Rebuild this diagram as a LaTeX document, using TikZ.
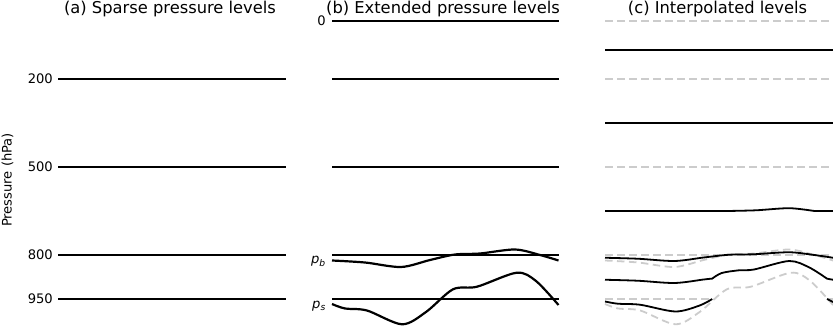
\documentclass[tikz,border=0pt]{standalone}
\usepackage{fontspec}
\setmainfont{DejaVu Sans}
\usepackage{tikz}
\usetikzlibrary{positioning}

\begin{document}
\begin{tikzpicture}[
		x=1pt, y=-1pt,                      % 1 Einheit = 1 Pixel, y nach unten
		every node/.style={font=\fontsize{13.1}{15}\selectfont, inner sep=0pt},
		titel/.style={font=\fontsize{16.3}{19}\selectfont, anchor=base},
		achse/.style={anchor=east},
		niveau/.style={line width=2.2pt},
		kurve/.style={line width=2.2pt, line join=round},
		interp/.style={line width=1.8pt, line join=round},
		alt/.style={line width=1.8pt, black!20, dash pattern=on 7.5pt off 4.5pt}
		]
		
		\useasboundingbox (0,0) rectangle (833,326);
		
		% 0. Titel und Achsenbeschriftung
		\node[titel] (ta) at (170,13.3) {(a) Sparse pressure levels};
		\node[titel] (tb) at (443,13.3) {(b) Extended pressure levels};
		\node[titel] (tc) at (717.5,13.3) {(c) Interpolated levels};
		\node[rotate=90] (ylab) at (7.5,180) {Pressure (hPa)};
		
		% 1. Panel (a): wenige Druckniveaus
		\coordinate (a200) at (58,79);
		\coordinate (a500) at (58,167);
		\coordinate (a800) at (58,255);
		\coordinate (a950) at (58,299);
		\draw[niveau] (a200) -- ++(228,0);
		\draw[niveau] (a500) -- ++(228,0);
		\draw[niveau] (a800) -- ++(228,0);
		\draw[niveau] (a950) -- ++(228,0);
		\node[achse, left=5pt of a200] (l200) {200};
		\node[achse, left=5pt of a500] (l500) {500};
		\node[achse, left=5pt of a800] (l800) {800};
		\node[achse, left=5pt of a950] (l950) {950};
		
		% 2. Panel (b): erweiterte Niveaus mit p_b und p_s
		\coordinate (b0) at (332,21);
		\draw[niveau, line width=2.8pt] (b0) -- ++(226.5,0);
		\draw[niveau] (332,79) -- ++(226.5,0);
		\draw[niveau] (332,167) -- ++(226.5,0);
		\draw[niveau] (332,255) -- ++(226.5,0);
		\draw[niveau] (332,299) -- ++(226.5,0);
		\node[achse, left=6pt of b0] (l0) {0};
		\node[anchor=base east] (lpb) at (326,263.6) {\textit{p}\textsubscript{\textit{b}}};
		\node[anchor=base east] (lps) at (326,308.8) {\textit{p}\textsubscript{\textit{s}}};
		
		\begin{scope}[shift={(332,0)}]
			% Grenzschicht p_b
			\draw[kurve] plot[smooth] coordinates {(0,260.5) (33,262.5) (69,267) (98,260) (123,254.5) (148,253.5) (183,249.5) (208,255) (226.5,260.5)};
			% Bodendruck p_s
			\draw[kurve] plot[smooth] coordinates {(0,304) (13,308.5) (35,310.5) (70,324.3) (94,312) (121,289.3) (145,286.7) (184.7,272.7) (204,281) (226.5,305)};
		\end{scope}
		
		% 3. Panel (c): interpolierte Niveaus
		\begin{scope}[shift={(605,0)}, xscale=1.0066]
			% alte Niveaus (grau gestrichelt)
			\draw[alt] (0,21) -- (226.5,21);
			\draw[alt] (0,79) -- (226.5,79);
			\draw[alt] (0,167) -- (226.5,167);
			\draw[alt] (0,255) -- (226.5,255);
			\draw[alt] (0,299) -- (106.5,299);
			\draw[alt] (220.6,299) -- (226.5,299);
			\draw[alt] plot[smooth] coordinates {(0,260.5) (33,262.5) (69,267) (98,260) (123,254.5) (148,253.5) (183,249.5) (208,255) (226.5,260.5)};
			\draw[alt] plot[smooth] coordinates {(0,304) (13,308.5) (35,310.5) (70,324.3) (94,312) (121,289.3) (145,286.7) (184.7,272.7) (204,281) (226.5,305)};
			
			% neue Niveaus (schwarz)
			\draw[niveau, line width=2pt] (0,50) -- (226.5,50);
			\draw[niveau, line width=2pt] (0,123) -- (226.5,123);
			\draw[interp] (0,211) -- (121,211) plot[smooth] coordinates {(121,211) (150,210.3) (183,208.2) (208,211)} -- (226.5,211);
			\draw[interp] plot[smooth] coordinates {(0,257.75) (33,258.75) (69,261) (98,257.5) (123,254.75) (148,254.25) (183,252.25) (208,255) (226.5,257.75)};
			\draw[interp] plot[smooth] coordinates {(0,279.75) (33,280.75) (69,283) (98,279.5) (106.5,278.6)}
				plot[smooth] coordinates {(106.5,278.6) (116,273) (133,270.3) (148,269.5) (183,261) (203,267.5) (220.6,278.7)}
				-- (226.5,279.75);
			\draw[interp] plot[smooth] coordinates {(0,301.5) (13,303.75) (35,304.75) (70,311.5) (94,305.5) (106.5,299)};
			\draw[interp] (220.6,299) -- (226.5,302);
		\end{scope}
		
	\end{tikzpicture}
\end{document}
